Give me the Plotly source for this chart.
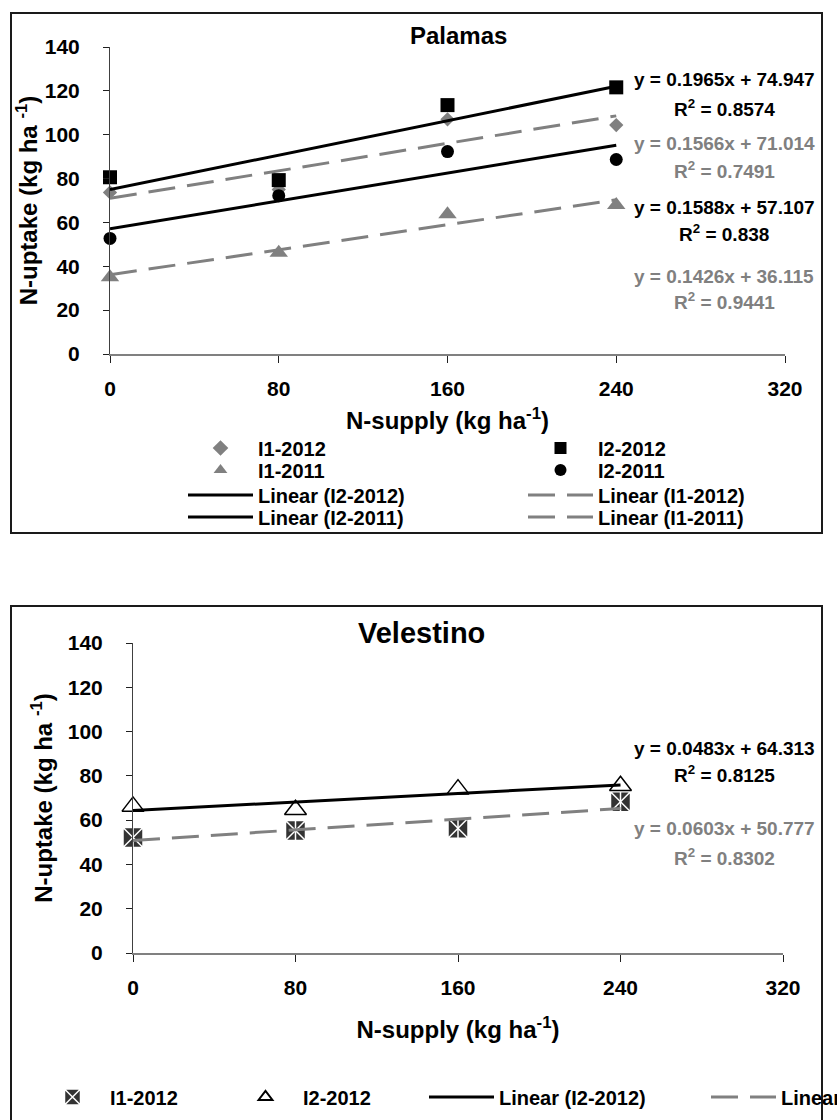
import plotly.graph_objects as go

FONT = "Liberation Sans, Arial, sans-serif"
GRAY = "#808080"
BLACK = "#000000"
W, H = 837, 1120

# ---------------- data ----------------
x_levels = [0, 80, 160, 240]
x_ticks = [0, 80, 160, 240, 320]
y_ticks = [0, 20, 40, 60, 80, 100, 120, 140]

# Palamas
pal_I1_2012 = [73.7, 75.0, 107.0, 104.4]
pal_I2_2012 = [80.6, 79.3, 113.5, 121.6]
pal_I1_2011 = [35.0, 46.2, 63.7, 68.0]
pal_I2_2011 = [52.7, 72.2, 92.3, 88.7]

pal_fit_names = ["I2-2012", "I1-2012", "I2-2011", "I1-2011"]
pal_slopes = [0.1965, 0.1566, 0.1588, 0.1426]
pal_intercepts = [74.947, 71.014, 57.107, 36.115]
pal_r2 = ["0.8574", "0.7491", "0.838", "0.9441"]

# Velestino
vel_I1_2012 = [52.2, 55.3, 56.3, 68.3]
vel_I2_2012 = [66.2, 64.7, 74.0, 75.5]

vel_fit_names = ["I2-2012", "I1-2012"]
vel_slopes = [0.0483, 0.0603]
vel_intercepts = [64.313, 50.777]
vel_r2 = ["0.8125", "0.8302"]


def px(x):
    return x / W


def py(y):
    return 1 - y / H


def fit_line(slope, intercept):
    xs = [min(x_levels), max(x_levels)]
    return xs, [slope * v + intercept for v in xs]


fig = go.Figure()

# ---------------- Palamas markers ----------------
fig.add_trace(go.Scatter(x=x_levels, y=pal_I1_2012, mode="markers", name="I1-2012",
                         marker=dict(symbol="diamond", size=11, color=GRAY),
                         xaxis="x", yaxis="y", legend="legend", cliponaxis=False))
fig.add_trace(go.Scatter(x=x_levels, y=pal_I2_2012, mode="markers", name="I2-2012",
                         marker=dict(symbol="square", size=14, color=BLACK),
                         xaxis="x", yaxis="y", legend="legend2", cliponaxis=False))
fig.add_trace(go.Scatter(x=x_levels, y=pal_I1_2011, mode="markers", name="I1-2011",
                         marker=dict(symbol="triangle-up", size=16, color=GRAY),
                         xaxis="x", yaxis="y", legend="legend3", cliponaxis=False))
fig.add_trace(go.Scatter(x=x_levels, y=pal_I2_2011, mode="markers", name="I2-2011",
                         marker=dict(symbol="circle", size=13, color=BLACK),
                         xaxis="x", yaxis="y", legend="legend4", cliponaxis=False))

# ---------------- Palamas trend lines ----------------
pal_line_styles = {
    "I2-2012": (BLACK, "solid", "legend5"),
    "I1-2012": (GRAY, "27px,12px", "legend6"),
    "I2-2011": (BLACK, "solid", "legend7"),
    "I1-2011": (GRAY, "27px,12px", "legend8"),
}
for nm, s, b in zip(pal_fit_names, pal_slopes, pal_intercepts):
    col, dash, lg = pal_line_styles[nm]
    xs, ys = fit_line(s, b)
    fig.add_trace(go.Scatter(x=xs, y=ys, mode="lines", name=f"Linear ({nm})",
                             line=dict(color=col, width=3, dash=dash),
                             xaxis="x", yaxis="y", legend=lg, cliponaxis=False))

# ---------------- Velestino markers ----------------
fig.add_trace(go.Scatter(x=x_levels, y=vel_I1_2012, mode="markers", name="I1-2012",
                         marker=dict(symbol="square-x", size=20, color="#333333",
                                     line=dict(color="white", width=1.5)),
                         xaxis="x2", yaxis="y2", legend="legend9", cliponaxis=False))
fig.add_trace(go.Scatter(x=x_levels, y=vel_I1_2012, mode="markers", name="I1-2012",
                         marker=dict(symbol="line-ns-open", size=14, color="white",
                                     line=dict(color="white", width=1.5)),
                         xaxis="x2", yaxis="y2", showlegend=False, cliponaxis=False))
fig.add_trace(go.Scatter(x=x_levels, y=vel_I2_2012, mode="markers", name="I2-2012",
                         marker=dict(symbol="triangle-up", size=19, color="white",
                                     line=dict(color=BLACK, width=1.5)),
                         xaxis="x2", yaxis="y2", legend="legend10", cliponaxis=False))

vel_line_styles = {
    "I2-2012": (BLACK, "solid", "legend11"),
    "I1-2012": (GRAY, "27px,12px", "legend12"),
}
for nm, s, b in zip(vel_fit_names, vel_slopes, vel_intercepts):
    col, dash, lg = vel_line_styles[nm]
    xs, ys = fit_line(s, b)
    fig.add_trace(go.Scatter(x=xs, y=ys, mode="lines", name=f"Linear ({nm})",
                             line=dict(color=col, width=3, dash=dash),
                             xaxis="x2", yaxis="y2", legend=lg, cliponaxis=False))

# ---------------- axes ----------------
tickfont = dict(family=FONT, size=21, color=BLACK, weight="bold")
titlefont = dict(family=FONT, size=24, color=BLACK, weight="bold")


def xaxis_cfg(dom, standoff):
    return dict(domain=dom, range=[0, 320], tickvals=x_ticks, ticks="outside",
                ticklen=7, tickwidth=1, tickcolor="#202020", showline=True,
                linecolor="#808080", linewidth=2, showgrid=False, zeroline=False,
                tickfont=tickfont, ticklabelstandoff=8, automargin=False,
                title=dict(text="N-supply (kg ha<sup>-1</sup>)", font=titlefont,
                           standoff=standoff),
                fixedrange=True)


def yaxis_cfg(dom, standoff):
    return dict(domain=dom, range=[0, 140], tickvals=y_ticks, ticks="outside",
                ticklen=6, tickwidth=1, tickcolor="#202020", showline=True,
                linecolor="#404040", linewidth=1, showgrid=False, zeroline=False,
                tickfont=tickfont, ticklabelstandoff=19, automargin=False,
                title=dict(text="N-uptake (kg ha <sup>-1</sup>)", font=titlefont,
                           standoff=standoff),
                fixedrange=True)


layout = dict(
    width=W, height=H,
    margin=dict(l=0, r=0, t=0, b=0, autoexpand=False),
    paper_bgcolor="white", plot_bgcolor="white",
    font=dict(family=FONT, color=BLACK),
    xaxis=xaxis_cfg([px(110), px(785)], 13),
    yaxis=yaxis_cfg([py(354), py(47)], 0),
    xaxis2=xaxis_cfg([px(133), px(783)], 23),
    yaxis2=yaxis_cfg([py(953), py(643)], 8),
)
layout["yaxis"]["anchor"] = "x"
layout["xaxis"]["anchor"] = "y"
layout["yaxis2"]["anchor"] = "x2"
layout["xaxis2"]["anchor"] = "y2"

# ---------------- legends ----------------
legfont = dict(family=FONT, size=20, color=BLACK, weight="bold")


def leg(x0, yc, sizing):
    return dict(x=px(x0), y=py(yc), xanchor="left", yanchor="middle",
                orientation="v", itemwidth=65, itemsizing=sizing, font=legfont,
                bgcolor="rgba(0,0,0,0)", borderwidth=0,
                itemclick=False, itemdoubleclick=False)


rows_top = [448, 470, 495, 517]
col1, col2 = 183, 523
layout["legend"] = leg(col1, rows_top[0], "constant")
layout["legend2"] = leg(col2, rows_top[0], "constant")
layout["legend3"] = leg(col1, rows_top[1], "constant")
layout["legend4"] = leg(col2, rows_top[1], "constant")
layout["legend5"] = leg(col1, rows_top[2], "trace")
layout["legend6"] = leg(col2, rows_top[2], "trace")
layout["legend7"] = leg(col1, rows_top[3], "trace")
layout["legend8"] = leg(col2, rows_top[3], "trace")
row_bot = 1097
layout["legend9"] = leg(35, row_bot, "trace")
layout["legend10"] = leg(228, row_bot, "constant")
layout["legend11"] = leg(424, row_bot, "trace")
layout["legend12"] = leg(706, row_bot, "trace")

fig.update_layout(**layout)

# ---------------- titles & equations ----------------
ann = []
ann.append(dict(text="Palamas", x=px(459), y=py(35), xref="paper", yref="paper",
                showarrow=False, xanchor="center", yanchor="middle",
                font=dict(family=FONT, size=24, color=BLACK, weight="bold")))
ann.append(dict(text="Velestino", x=px(421), y=py(633), xref="paper", yref="paper",
                showarrow=False, xanchor="center", yanchor="middle",
                font=dict(family=FONT, size=29, color=BLACK, weight="bold")))

pal_eq_y = [(80, 108), (143, 170), (207, 233), (276, 301)]
pal_eq_col = [BLACK, GRAY, BLACK, GRAY]
for s, b, r2, (ye, yr), c in zip(pal_slopes, pal_intercepts, pal_r2, pal_eq_y, pal_eq_col):
    for txt, yy in ((f"y = {s}x + {b}", ye), (f"R<sup>2</sup> = {r2}", yr)):
        ann.append(dict(text=txt, x=px(724), y=py(yy), xref="paper", yref="paper",
                        showarrow=False, xanchor="center", yanchor="middle",
                        font=dict(family=FONT, size=19, color=c, weight="bold")))

vel_eq_y = [(748, 774), (828, 857)]
vel_eq_col = [BLACK, GRAY]
for s, b, r2, (ye, yr), c in zip(vel_slopes, vel_intercepts, vel_r2, vel_eq_y, vel_eq_col):
    for txt, yy in ((f"y = {s}x + {b}", ye), (f"R<sup>2</sup> = {r2}", yr)):
        ann.append(dict(text=txt, x=px(724), y=py(yy), xref="paper", yref="paper",
                        showarrow=False, xanchor="center", yanchor="middle",
                        font=dict(family=FONT, size=19, color=c, weight="bold")))

fig.update_layout(annotations=ann)

# ---------------- chart frames ----------------
fig.update_layout(shapes=[
    dict(type="rect", xref="paper", yref="paper", x0=px(11), x1=px(822),
         y0=py(533), y1=py(13), line=dict(color="#1a1a1a", width=2)),
    dict(type="rect", xref="paper", yref="paper", x0=px(11), x1=px(822),
         y0=py(1135), y1=py(606), line=dict(color="#1a1a1a", width=2)),
])

fig.write_html("out.html", config={"displayModeBar": False},
               post_script="document.body.style.margin='0px';")
